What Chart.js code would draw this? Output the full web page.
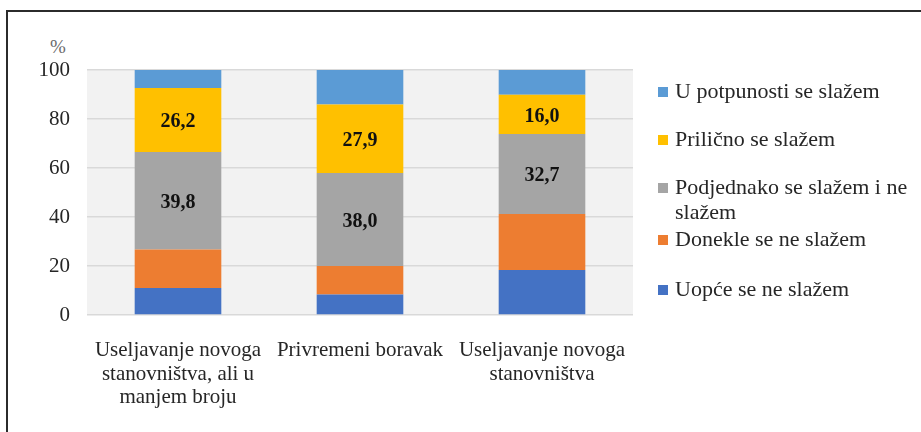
<!DOCTYPE html>
<html>
<head>
<meta charset="utf-8">
<script src="https://cdn.jsdelivr.net/npm/chart.js@4/dist/chart.umd.min.js"></script>
<style>
  html, body { margin: 0; padding: 0; background: #fff; }
  #wrap { position: relative; width: 921px; height: 432px; overflow: hidden; }
  #frame { position: absolute; left: 6px; top: 10px; right: -10px; bottom: -10px;
           border-top: 2px solid #2b2b2b; border-left: 2px solid #2b2b2b; }
  #pct { position: absolute; left: 50px; top: 36px; font: 19px "Liberation Serif", serif; color: #6b6b6b; }
  canvas { position: absolute; left: 0; top: 0; }
</style>
</head>
<body>
<div id="wrap">
  <div id="frame"></div>
  <div id="pct">%</div>
  <canvas id="chart" width="921" height="432"></canvas>
</div>
<script>
// categories (multi-line labels) and series, bottom segment first
const categories = [
  ['Useljavanje novoga', 'stanovništva, ali u', 'manjem broju'],
  ['Privremeni boravak'],
  ['Useljavanje novoga', 'stanovništva']
];
const uopce = [11.0, 8.4, 18.4];
const donekle = [15.7, 11.6, 22.8];
const podjednako = [39.8, 38.0, 32.7];
const prilicno = [26.2, 27.9, 16.0];
const potpuno = [7.3, 14.1, 10.1];
const yTicks = [0, 20, 40, 60, 80, 100];

const serif = '"Liberation Serif", "Times New Roman", serif';

// grey plot background
const plotBg = {
  id: 'plotBg',
  beforeDraw(chart) {
    const { ctx, chartArea: a } = chart;
    ctx.save();
    ctx.fillStyle = '#f2f2f2';
    ctx.fillRect(a.left, a.top, a.right - a.left, a.bottom - a.top);
    ctx.restore();
  }
};

// value labels inside the segments that have showLabels set
const segLabels = {
  id: 'segLabels',
  afterDatasetsDraw(chart) {
    const { ctx } = chart;
    ctx.save();
    ctx.font = 'bold 20px ' + serif;
    ctx.fillStyle = '#111';
    ctx.textAlign = 'center';
    ctx.textBaseline = 'middle';
    chart.data.datasets.forEach((ds, i) => {
      if (!ds.showLabels) return;
      chart.getDatasetMeta(i).data.forEach((bar, j) => {
        const y = (bar.y + bar.base) / 2 + 2;
        ctx.fillText(ds.data[j].toFixed(1).replace('.', ','), bar.x, y);
      });
    });
    ctx.restore();
  }
};

// legend on the right, top entry = top segment, long names wrapped
const sideLegend = {
  id: 'sideLegend',
  afterDraw(chart) {
    const { ctx } = chart;
    const x = 658, textX = 675, maxW = 240;
    const rows = [92, 140, 188, 240, 290];
    ctx.save();
    ctx.font = '22px ' + serif;
    ctx.textBaseline = 'middle';
    const sets = chart.data.datasets.slice().reverse();
    sets.forEach((ds, k) => {
      const y = rows[k];
      ctx.fillStyle = ds.backgroundColor;
      ctx.fillRect(x, y - 5, 10, 10);
      ctx.fillStyle = '#262626';
      const words = ds.label.split(' ');
      let line = '', ly = y;
      words.forEach(w => {
        const test = line ? line + ' ' + w : w;
        if (ctx.measureText(test).width > maxW && line) {
          ctx.fillText(line, textX, ly);
          line = w;
          ly += 25;
        } else {
          line = test;
        }
      });
      ctx.fillText(line, textX, ly);
    });
    ctx.restore();
  }
};

new Chart(document.getElementById('chart').getContext('2d'), {
  type: 'bar',
  data: {
    labels: categories,
    datasets: [
      { label: 'Uopće se ne slažem', data: uopce, backgroundColor: '#4472c4' },
      { label: 'Donekle se ne slažem', data: donekle, backgroundColor: '#ed7d31' },
      { label: 'Podjednako se slažem i ne slažem', data: podjednako, backgroundColor: '#a5a5a5', showLabels: true },
      { label: 'Prilično se slažem', data: prilicno, backgroundColor: '#ffc000', showLabels: true },
      { label: 'U potpunosti se slažem', data: potpuno, backgroundColor: '#5b9bd5' }
    ]
  },
  options: {
    responsive: false,
    animation: false,
    devicePixelRatio: 1,
    layout: { padding: { left: 0, top: 70, right: 288, bottom: 0 } },
    datasets: { bar: { categoryPercentage: 1, barPercentage: 0.476 } },
    plugins: { legend: { display: false }, tooltip: { enabled: false } },
    scales: {
      x: {
        stacked: true,
        grid: { display: false },
        border: { display: false },
        ticks: {
          color: '#262626',
          padding: 16,
          maxRotation: 0,
          autoSkip: false,
          font: { family: serif, size: 21, lineHeight: 1.12 }
        },
        afterFit(scale) { scale.height = 117; }
      },
      y: {
        stacked: true,
        min: 0,
        max: 100,
        afterBuildTicks(scale) { scale.ticks = yTicks.map(v => ({ value: v })); },
        grid: { color: '#d9d9d9', lineWidth: 1.5, drawTicks: false },
        border: { display: false },
        ticks: {
          color: '#262626',
          padding: 17,
          font: { family: serif, size: 21 }
        },
        afterFit(scale) { scale.width = 87; }
      }
    }
  },
  plugins: [plotBg, segLabels, sideLegend]
});
</script>
</body>
</html>
